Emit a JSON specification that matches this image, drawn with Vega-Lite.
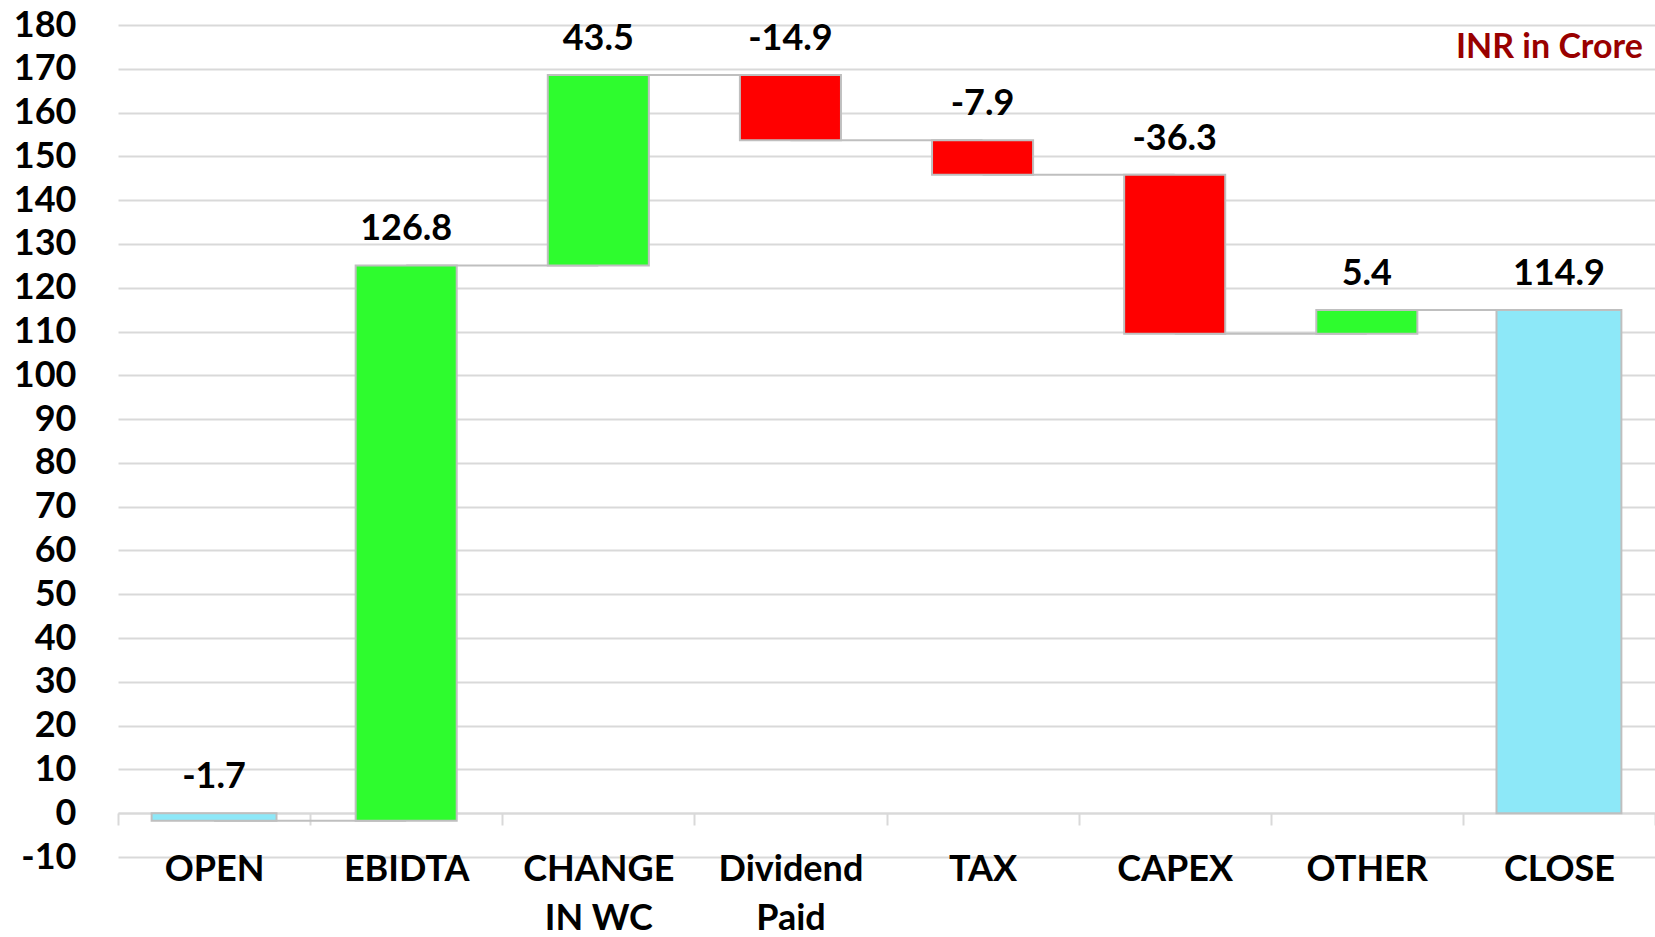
{
  "$schema": "https://vega.github.io/schema/vega-lite/v6.json",
  "autosize": {"type": "none"},
  "padding": {"left": 118, "top": 25, "right": 0, "bottom": 80},
  "width": 1537,
  "height": 832,
  "config": {"view": {"stroke": null}, "font": "Lato"},
  "datasets": {
    "bars": [
      {"cat": "OPEN", "lo": -1.7, "hi": 0, "kind": "total", "label": "-1.7"},
      {"cat": "EBIDTA", "lo": -1.7, "hi": 125.1, "kind": "inc", "label": "126.8"},
      {"cat": "CHANGE IN WC", "lo": 125.1, "hi": 168.6, "kind": "inc", "label": "43.5"},
      {"cat": "Dividend Paid", "lo": 153.7, "hi": 168.6, "kind": "dec", "label": "-14.9"},
      {"cat": "TAX", "lo": 145.8, "hi": 153.7, "kind": "dec", "label": "-7.9"},
      {"cat": "CAPEX", "lo": 109.5, "hi": 145.8, "kind": "dec", "label": "-36.3"},
      {"cat": "OTHER", "lo": 109.5, "hi": 114.9, "kind": "inc", "label": "5.4"},
      {"cat": "CLOSE", "lo": 0, "hi": 114.9, "kind": "total", "label": "114.9"}
    ],
    "links": [
      {"from": "OPEN", "to": "EBIDTA", "level": -1.7},
      {"from": "EBIDTA", "to": "CHANGE IN WC", "level": 125.1},
      {"from": "CHANGE IN WC", "to": "Dividend Paid", "level": 168.6},
      {"from": "Dividend Paid", "to": "TAX", "level": 153.7},
      {"from": "TAX", "to": "CAPEX", "level": 145.8},
      {"from": "CAPEX", "to": "OTHER", "level": 109.5},
      {"from": "OTHER", "to": "CLOSE", "level": 114.9}
    ],
    "note": [{"cat": "CLOSE", "v": 174.7, "t": "INR in Crore"}]
  },
  "layer": [
    {
      "data": {"name": "links"},
      "mark": {"type": "rule", "color": "#bfbfbf", "strokeWidth": 2},
      "encoding": {
        "x": {"field": "from", "type": "nominal", "scale": {"domain": ["OPEN", "EBIDTA", "CHANGE IN WC", "Dividend Paid", "TAX", "CAPEX", "OTHER", "CLOSE"], "paddingInner": 0, "paddingOuter": 0},
          "axis": {"title": null, "orient": "bottom", "offset": -44, "domain": true, "domainColor": "#d9d9d9", "domainWidth": 2, "ticks": true, "tickBand": "extent", "tickSize": 12, "tickColor": "#d9d9d9", "tickWidth": 2, "labelAngle": 0, "labelFont": "Lato", "labelFontSize": 36, "labelFontWeight": "bold", "labelColor": "#000000", "labelPadding": 27, "labelBaseline": "top", "labelLineHeight": 49, "labelLimit": 0,
            "labelExpr": "datum.label == 'CHANGE IN WC' ? ['CHANGE', 'IN WC'] : datum.label == 'Dividend Paid' ? ['Dividend', 'Paid'] : datum.label"}},
        "x2": {"field": "to"},
        "y": {"field": "level", "type": "quantitative", "scale": {"domain": [-10, 180], "nice": false, "zero": false},
          "axis": {"title": null, "values": [-10, 0, 10, 20, 30, 40, 50, 60, 70, 80, 90, 100, 110, 120, 130, 140, 150, 160, 170, 180], "labelExpr": "'' + datum.value", "domain": false, "ticks": false, "grid": true, "gridColor": "#d9d9d9", "gridWidth": 2, "labelFont": "Lato", "labelFontSize": 36, "labelFontWeight": "bold", "labelColor": "#000000", "labelPadding": 42}}
      }
    },
    {
      "data": {"name": "bars"},
      "transform": [{"filter": "datum.kind != 'total'"}],
      "mark": {"type": "bar", "width": {"band": 0.526}, "stroke": "#bfbfbf", "strokeWidth": 2},
      "encoding": {
        "x": {"field": "cat", "type": "nominal"},
        "y": {"field": "lo", "type": "quantitative"},
        "y2": {"field": "hi"},
        "color": {"field": "kind", "type": "nominal", "scale": {"domain": ["inc", "dec", "total"], "range": ["#2efc2e", "#ff0000", "#8de8f8"]}, "legend": null}
      }
    },
    {
      "data": {"name": "bars"},
      "transform": [{"filter": "datum.kind == 'total'"}],
      "mark": {"type": "bar", "width": {"band": 0.65}, "stroke": "#bfbfbf", "strokeWidth": 2},
      "encoding": {
        "x": {"field": "cat", "type": "nominal"},
        "y": {"field": "lo", "type": "quantitative"},
        "y2": {"field": "hi"},
        "color": {"field": "kind", "type": "nominal", "legend": null}
      }
    },
    {
      "data": {"name": "bars"},
      "mark": {"type": "text", "font": "Lato", "fontSize": 36, "fontWeight": "bold", "color": "#000000", "baseline": "middle", "align": "center", "dy": -36},
      "encoding": {
        "x": {"field": "cat", "type": "nominal"},
        "y": {"field": "hi", "type": "quantitative"},
        "text": {"field": "label", "type": "nominal"}
      }
    },
    {
      "data": {"name": "note"},
      "mark": {"type": "text", "font": "Lato", "fontSize": 34, "fontWeight": "bold", "color": "#990000", "baseline": "middle", "align": "right", "dx": 84},
      "encoding": {
        "x": {"field": "cat", "type": "nominal"},
        "y": {"field": "v", "type": "quantitative"},
        "text": {"field": "t", "type": "nominal"}
      }
    }
  ]
}
